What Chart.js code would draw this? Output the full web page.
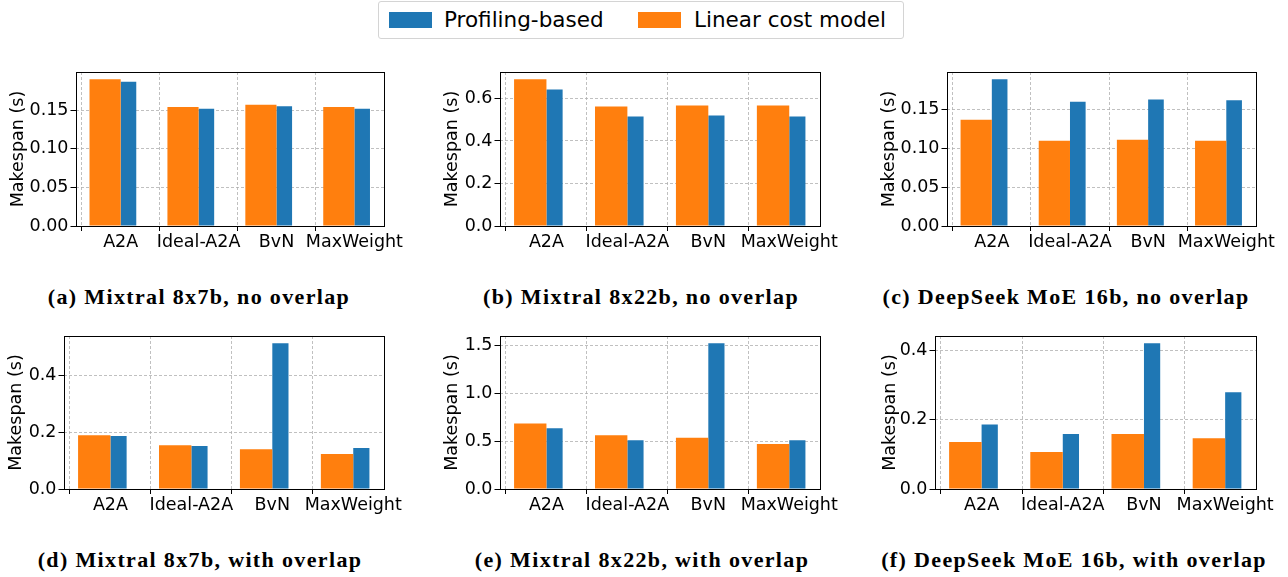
<!DOCTYPE html>
<html>
<head>
<meta charset="utf-8">
<script src="https://cdn.jsdelivr.net/npm/chart.js@4.4.1/dist/chart.umd.min.js"></script>
<style>
  html, body { margin: 0; padding: 0; background: #fff; }
  body { width: 1288px; height: 577px; position: relative; overflow: hidden; }
  canvas { position: absolute; }
  .caption { position: absolute; font-family: "Liberation Serif", serif; font-weight: bold; font-size: 22px; line-height: 24px; letter-spacing: 1.35px; white-space: nowrap; transform: translateX(-50%); color: #000; }
  #legend { position: absolute; left: 378px; top: 1px; width: 524px; height: 36px; border: 1px solid #d4d4d4; border-radius: 3px; font-family: "DejaVu Sans", sans-serif; font-size: 21.5px; color: #000; }
  .sw { position: absolute; top: 10px; width: 43px; height: 16px; }
  .lt { position: absolute; top: 4px; line-height: 27px; white-space: nowrap; }
</style>
</head>
<body>
<div id="legend"></div>
<script>
// ---------------- data ----------------
const categories = ['A2A', 'Ideal-A2A', 'BvN', 'MaxWeight'];
const seriesNames = ['Profiling-based', 'Linear cost model'];
const captions = [
  '(a) Mixtral 8x7b, no overlap',
  '(b) Mixtral 8x22b, no overlap',
  '(c) DeepSeek MoE 16b, no overlap',
  '(d) Mixtral 8x7b, with overlap',
  '(e) Mixtral 8x22b, with overlap',
  '(f) DeepSeek MoE 16b, with overlap'
];
const yTitle = 'Makespan (s)';

const aLinear    = [0.190, 0.154, 0.157, 0.154];
const aProfiling = [0.187, 0.152, 0.155, 0.152];
const bLinear    = [0.690, 0.562, 0.567, 0.567];
const bProfiling = [0.642, 0.515, 0.520, 0.515];
const cLinear    = [0.137, 0.110, 0.111, 0.110];
const cProfiling = [0.189, 0.160, 0.163, 0.162];
const dLinear    = [0.189, 0.154, 0.140, 0.123];
const dProfiling = [0.186, 0.151, 0.512, 0.144];
const eLinear    = [0.683, 0.561, 0.533, 0.468];
const eProfiling = [0.634, 0.509, 1.518, 0.509];
const fLinear    = [0.136, 0.107, 0.159, 0.147];
const fProfiling = [0.187, 0.159, 0.422, 0.280];

const yStepsA = 0.05, yStepsB = 0.2, yStepsC = 0.05, yStepsD = 0.2, yStepsE = 0.5, yStepsF = 0.2;

// ---------------- styling / layout ----------------
const BLUE = '#1f77b4', ORANGE = '#ff7f0e';
const FONT = { family: 'DejaVu Sans', size: 17.5 };
const PAD_TOP = 16, PAD_RIGHT = 30, XAXIS_H = 30;

const panels = [
  { lin: aLinear, prof: aProfiling, step: yStepsA, dec: 2, box: [75, 72, 383, 226],  yw: 67.5, cap: [199, 285] },
  { lin: bLinear, prof: bProfiling, step: yStepsB, dec: 1, box: [499, 72, 819, 226], yw: 57.5, cap: [641, 285] },
  { lin: cLinear, prof: cProfiling, step: yStepsC, dec: 2, box: [946, 72, 1255, 226], yw: 67.5, cap: [1066, 285] },
  { lin: dLinear, prof: dProfiling, step: yStepsD, dec: 1, box: [63, 336, 383, 489], yw: 57.5, cap: [200, 548] },
  { lin: eLinear, prof: eProfiling, step: yStepsE, dec: 1, box: [499, 336, 819, 489], yw: 57.5, cap: [642, 548] },
  { lin: fLinear, prof: fProfiling, step: yStepsF, dec: 1, box: [934, 336, 1255, 489], yw: 54.5, cap: [1074, 548] }
];

// legend (HTML)
const legend = document.getElementById('legend');
[[BLUE, 10, 65], [ORANGE, 259, 315]].forEach(([col, sx, tx], i) => {
  const s = document.createElement('div'); s.className = 'sw'; s.style.left = sx + 'px'; s.style.background = col; legend.appendChild(s);
  const t = document.createElement('div'); t.className = 'lt'; t.style.left = tx + 'px'; t.textContent = seriesNames[i]; legend.appendChild(t);
});

const framePlugin = {
  id: 'frame',
  afterDatasetsDraw(chart) {
    const { ctx, chartArea: { left, top, right, bottom } } = chart;
    ctx.save();
    ctx.strokeStyle = '#000';
    ctx.lineWidth = 1;
    ctx.strokeRect(Math.round(left) + 0.5, Math.round(top) + 0.5, Math.round(right - left) - 1, Math.round(bottom - top));
    ctx.restore();
  }
};

panels.forEach((p, idx) => {
  const [l, t, r, b] = p.box;
  const canvas = document.createElement('canvas');
  const cw = Math.round(p.yw + (r - l) + PAD_RIGHT);
  const ch = Math.round(PAD_TOP + (b - t) + XAXIS_H);
  canvas.width = cw; canvas.height = ch;
  canvas.style.width = cw + 'px'; canvas.style.height = ch + 'px';
  canvas.style.left = (l - p.yw) + 'px';
  canvas.style.top = (t - PAD_TOP) + 'px';
  document.body.appendChild(canvas);

  const n = categories.length;
  const xmin = -0.4 - 0.05 * (n - 1 + 0.6);
  const xmax = (n - 1 + 0.2) + 0.05 * (n - 1 + 0.6);
  const ymax = Math.max(...p.lin, ...p.prof) * 1.05;

  new Chart(canvas, {
    type: 'bar',
    data: {
      datasets: [
        { label: seriesNames[1], data: p.lin.map((v, i) => ({ x: i, y: v })), backgroundColor: ORANGE, borderWidth: 0, categoryPercentage: 0.8, barPercentage: 1.0 },
        { label: seriesNames[0], data: p.prof.map((v, i) => ({ x: i, y: v })), backgroundColor: BLUE, borderWidth: 0, categoryPercentage: 0.4, barPercentage: 1.0 }
      ]
    },
    options: {
      responsive: false,
      animation: false,
      devicePixelRatio: 1,
      layout: { padding: { left: 0, top: PAD_TOP, right: PAD_RIGHT, bottom: 0 } },
      plugins: { legend: { display: false }, tooltip: { enabled: false } },
      scales: {
        x: {
          type: 'linear', min: xmin, max: xmax, offset: false,
          afterBuildTicks: (s) => { s.ticks = categories.map((_, i) => ({ value: i })); },
          afterFit: (s) => { s.height = XAXIS_H; },
          ticks: { callback: (v) => categories[v], font: FONT, color: '#000', padding: 1, maxRotation: 0, autoSkip: false },
          grid: { color: '#b0b0b0', lineWidth: 0.8, drawTicks: true, tickLength: 5, tickColor: '#000', tickWidth: 1 },
          border: { display: false, dash: [3, 2] }
        },
        y: {
          type: 'linear', min: 0, max: ymax,
          afterBuildTicks: (s) => {
            const arr = [];
            for (let k = 0; k * p.step <= ymax + 1e-9; k++) arr.push({ value: +(k * p.step).toFixed(6) });
            s.ticks = arr;
          },
          afterFit: (s) => { s.width = p.yw; },
          ticks: { callback: (v) => Number(v).toFixed(p.dec), font: FONT, color: '#000', padding: 2 },
          grid: { color: '#b0b0b0', lineWidth: 0.8, drawTicks: true, tickLength: 5, tickColor: '#000', tickWidth: 1 },
          border: { display: false, dash: [3, 2] },
          title: { display: true, text: yTitle, font: FONT, color: '#000', padding: { top: 0, bottom: 0 } }
        }
      }
    },
    plugins: [framePlugin]
  });

  const cap = document.createElement('div');
  cap.className = 'caption';
  cap.style.left = p.cap[0] + 'px';
  cap.style.top = p.cap[1] + 'px';
  cap.textContent = captions[idx];
  document.body.appendChild(cap);
});
</script>
</body>
</html>
